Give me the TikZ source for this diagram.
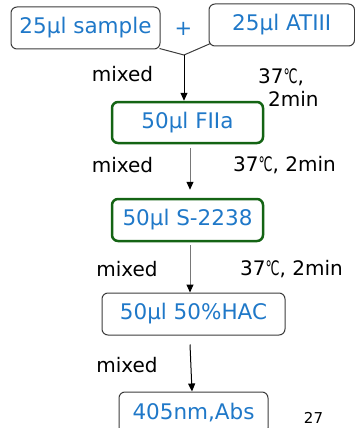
\documentclass[tikz,border=0pt]{standalone}
\usepackage{fontspec}
\setmainfont{DejaVu Sans}
\usetikzlibrary{arrows.meta}
\definecolor{txtblue}{RGB}{31,120,200}
\definecolor{boxgreen}{RGB}{20,100,20}
\definecolor{boxgray}{RGB}{60,60,60}
\definecolor{linegray}{RGB}{120,120,120}
\newcommand{\degC}{\resizebox{14pt}{\height}{℃}}
\tikzset{
  graybox/.style={draw=boxgray, line width=1pt, rounded corners=6pt, inner sep=0pt,
    font=\fontsize{21.5}{25}\selectfont, text=txtblue},
  greenbox/.style={draw=boxgreen, line width=2.5pt, rounded corners=6pt, inner sep=0pt,
    font=\fontsize{21.5}{25}\selectfont, text=txtblue},
  lbl/.style={inner sep=0pt, font=\fontsize{20}{24}\selectfont, text=black},
  arr/.style={line width=1pt, -{Triangle[length=8pt,width=7pt]}},
  garr/.style={line width=1pt, draw=linegray, -{Triangle[length=8pt,width=7pt,color=black]}},
}
\begin{document}
\begin{tikzpicture}[x=1pt,y=-1pt]
\useasboundingbox (0,0) rectangle (355,428);
% boxes
\node[graybox, minimum width=149pt, minimum height=42pt] (b1) at (85.5,28) {25µl sample};
\node[graybox, minimum width=145.5pt, minimum height=42pt] (b2) at (281.75,25) {25µl ATIII};
\node[inner sep=0pt, font=\fontsize{21}{25}\selectfont, text=txtblue] (plus) at (183.5,29) {+};
\node[greenbox, minimum width=151pt, minimum height=41pt] (fiia) at (187.5,122.5) {50µl FIIa};
\node[greenbox, minimum width=151pt, minimum height=42pt] (s2238) at (187.5,220) {50µl S-2238};
\node[graybox, minimum width=183pt, minimum height=42pt] (hac) at (193.5,314) {50µl 50\%HAC};
\node[graybox, minimum width=149pt, minimum height=42pt] (abs) at (193.5,413) {405nm,Abs};
% junction
\coordinate (j) at (184,55);
\draw[boxgray, line width=1pt] ([xshift=-1pt,yshift=1pt]b1.south east) -- (j) -- ([xshift=2pt,yshift=3pt]b2.south west);
\draw[arr] (j) -- (j |- fiia.north);
\draw[garr] ([xshift=2.5pt,yshift=-4pt]fiia.south) -- ([xshift=2.5pt,yshift=8pt]s2238.north);
\draw[garr] ([xshift=2.5pt,yshift=-3pt]s2238.south) -- ([xshift=-3.5pt]hac.north);
\draw[arr] ([xshift=-3.5pt,yshift=-9pt]hac.south) -- ([xshift=-1.5pt,yshift=0pt]abs.north);
% labels
\node[lbl] (m1) at (122.5,74) {mixed};
\node[lbl, anchor=west] (t1a) at (258,77) {37\degC,};
\node[lbl, anchor=west] (t1b) at (268,99) {2min};
\node[lbl] (m2) at (122.5,165) {mixed};
\node[lbl, anchor=west] (t2) at (233,165) {37\degC, 2min};
\node[lbl] (m3) at (127,269) {mixed};
\node[lbl, anchor=west] (t3) at (240,269) {37\degC, 2min};
\node[lbl] (m4) at (127,365) {mixed};
\node[inner sep=0pt, font=\fontsize{15}{18}\selectfont] (pg) at (313.5,418) {27};
\end{tikzpicture}
\end{document}
